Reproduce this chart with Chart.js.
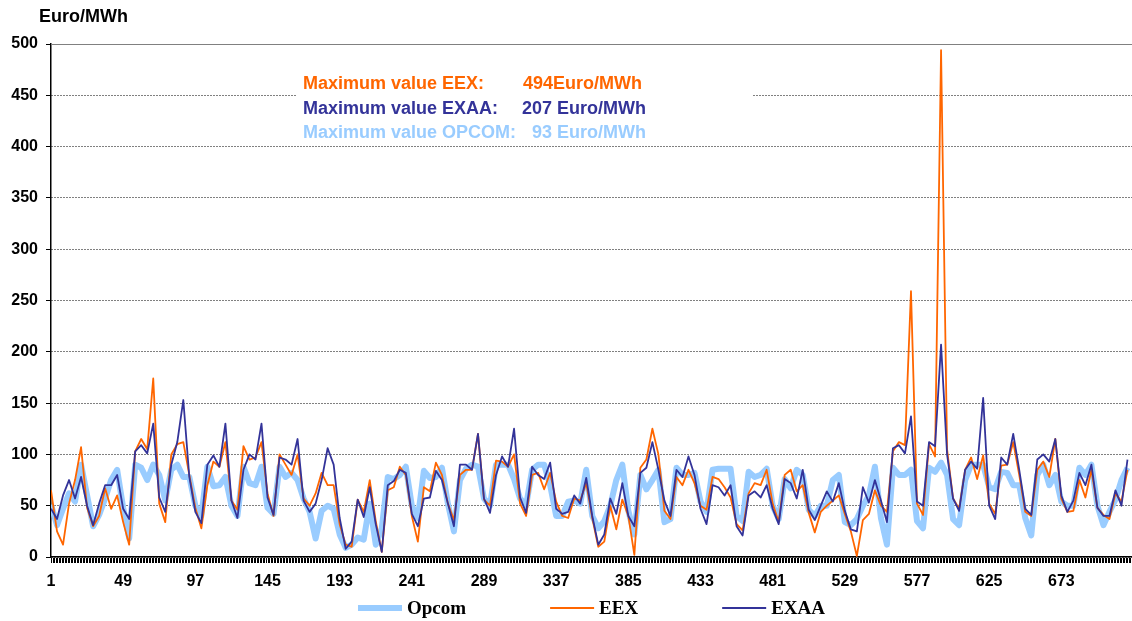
<!DOCTYPE html>
<html>
<head>
<meta charset="utf-8">
<script src="https://cdn.jsdelivr.net/npm/chart.js@4.4.0/dist/chart.umd.min.js"></script>
<style>
  html, body { margin: 0; padding: 0; background: #fff; }
</style>
</head>
<body>
<canvas id="chart" width="1132" height="621"></canvas>
<script>
// hourly prices for one month, read every 4th hour off the original chart
const hours = Array.from({ length: 180 }, (_, i) => 1 + 4 * i);
const hourTicks = Array.from({ length: 720 }, (_, i) => i + 1);
const tickLabels = [1, 49, 97, 145, 193, 241, 289, 337, 385, 433, 481, 529, 577, 625, 673];

const opcom = [
  51, 31, 47, 62, 54, 90, 60, 30, 41, 57,
  75, 85, 48, 18, 90, 87, 75, 90, 80, 55,
  85, 90, 78, 78, 50, 40, 88, 69, 70, 78,
  50, 40, 88, 72, 70, 88, 48, 42, 88, 78,
  82, 75, 57, 44, 18, 45, 50, 47, 22, 9,
  12, 19, 17, 52, 12, 28, 78, 76, 80, 88,
  50, 38, 84, 77, 78, 87, 52, 25, 75, 86,
  90, 88, 57, 50, 90, 90, 90, 76, 57, 50,
  85, 90, 90, 70, 40, 40, 54, 55, 52, 85,
  40, 28, 35, 50, 75, 90, 45, 22, 80, 66,
  75, 85, 34, 37, 87, 80, 80, 82, 54, 44,
  85, 86, 86, 86, 40, 35, 83, 78, 80, 86,
  50, 37, 76, 67, 85, 80, 46, 40, 50, 50,
  75, 80, 34, 31, 37, 50, 60, 88, 38, 12,
  87, 80, 80, 85, 35, 28, 87, 83, 92, 80,
  37, 31, 75, 90, 90, 90, 68, 66, 83, 82,
  70, 70, 38, 21, 80, 90, 70, 80, 54, 50,
  50, 87, 80, 90, 50, 31, 44, 56, 75, 87
];

const eex = [
  65, 25, 12, 52, 75, 107, 48, 30, 40, 67,
  47, 60, 34, 12, 103, 115, 105, 174, 52, 34,
  100, 110, 112, 80, 48, 28, 70, 93, 88, 112,
  55, 46, 108, 95, 97, 112, 62, 40, 100, 90,
  80, 100, 57, 50, 62, 82, 70, 70, 32, 12,
  10, 56, 44, 75, 35, 5, 65, 68, 88, 80,
  40, 15, 68, 64, 92, 80, 52, 36, 80, 85,
  85, 120, 56, 50, 94, 93, 88, 100, 52, 40,
  80, 82, 66, 82, 54, 40, 38, 57, 55, 72,
  38, 10, 15, 50, 27, 56, 40, 2, 87, 95,
  125, 100, 45, 37, 78, 70, 85, 72, 50, 46,
  78, 76, 68, 58, 32, 26, 62, 72, 70, 85,
  52, 34, 80, 85, 64, 70, 43, 24, 44, 50,
  55, 60, 42, 25, 1, 36, 42, 65, 50, 44,
  103, 112, 109, 259, 52, 41, 110, 98, 494, 105,
  57, 47, 85, 97, 76, 99, 52, 42, 89, 90,
  112, 80, 44, 40, 85, 93, 78, 115, 57, 44,
  45, 75, 58, 85, 48, 41, 37, 62, 54, 85
];

const exaa = [
  47, 37, 60, 75, 57, 78, 50, 31, 52, 70,
  70, 80, 47, 37, 103, 109, 101, 130, 58, 44,
  90, 112, 153, 78, 44, 33, 90, 99, 88, 130,
  55, 38, 85, 100, 95, 130, 58, 41, 97, 95,
  90, 115, 55, 44, 52, 75, 106, 90, 38, 8,
  15, 56, 39, 68, 32, 5, 70, 74, 85, 82,
  42, 30, 57, 58, 84, 75, 52, 30, 90, 90,
  85, 120, 57, 43, 80, 98, 88, 125, 58, 43,
  88, 80, 76, 92, 47, 42, 44, 60, 52, 77,
  40, 12, 22, 57, 42, 72, 40, 30, 82, 87,
  112, 85, 55, 40, 85, 78, 98, 80, 47, 32,
  70, 68, 60, 70, 30, 21, 60, 64, 58, 70,
  47, 32, 76, 72, 57, 85, 46, 36, 50, 64,
  54, 72, 45, 27, 25, 68, 53, 75, 55, 34,
  106, 109, 101, 137, 54, 50, 112, 108, 207, 100,
  57, 45, 85, 93, 86, 155, 50, 37, 97, 90,
  120, 85, 47, 41, 95, 100, 93, 115, 60, 44,
  55, 82, 70, 90, 48, 40, 40, 65, 50, 95
];

const maxNotes = [
  ['Maximum value EEX:', '494Euro/MWh', '#FF6600'],
  ['Maximum value EXAA:', '207 Euro/MWh', '#333399'],
  ['Maximum value OPCOM:', '93 Euro/MWh', '#99CCFF']
];

const toPoints = vals => vals.map((v, i) => ({ x: hours[i], y: v }));
const SANS = '"Liberation Sans", Arial, sans-serif';

// title, note box, top frame line, hourly tick marks, legend
const decorations = {
  id: 'decorations',
  beforeDatasetsDraw(chart) {
    const { ctx, chartArea } = chart;
    ctx.save();
    ctx.strokeStyle = '#808080';
    ctx.lineWidth = 1;
    ctx.beginPath();
    ctx.moveTo(chartArea.left, chartArea.top + 0.5);
    ctx.lineTo(chartArea.right, chartArea.top + 0.5);
    ctx.stroke();

    ctx.fillStyle = '#fff';
    ctx.fillRect(296, 68, 456, 74);
    ctx.font = 'bold 18px ' + SANS;
    ctx.textBaseline = 'alphabetic';
    const valX = [523, 522, 532];
    maxNotes.forEach((n, i) => {
      ctx.fillStyle = n[2];
      ctx.fillText(n[0], 303, 89 + i * 24.5);
      ctx.fillText(n[1], valX[i], 89 + i * 24.5);
    });
    ctx.restore();
  },
  afterDraw(chart) {
    const { ctx, chartArea, scales } = chart;
    ctx.save();

    // one small tick per hour under the x axis
    ctx.strokeStyle = '#000';
    ctx.lineWidth = 1;
    ctx.setLineDash([]);
    ctx.beginPath();
    hourTicks.forEach(h => {
      const px = Math.round(scales.x.getPixelForValue(h)) + 0.5;
      ctx.moveTo(px, chartArea.bottom + 1);
      ctx.lineTo(px, chartArea.bottom + 6);
    });
    ctx.stroke();

    ctx.fillStyle = '#000';
    ctx.font = 'bold 18px ' + SANS;
    ctx.textBaseline = 'middle';
    ctx.fillText('Euro/MWh', 39, 17);

    // legend centred under the plot area
    ctx.font = 'bold 19px "Liberation Serif", "Times New Roman", serif';
    const items = chart.data.datasets.map(ds => ({
      ds, w: 44 + 5 + ctx.measureText(ds.label).width
    }));
    const gap = 84;
    const total = items.reduce((s, it) => s + it.w, 0) + gap * (items.length - 1);
    let x = (chartArea.left + chartArea.right) / 2 - total / 2;
    const y = 608;
    items.forEach(it => {
      ctx.strokeStyle = it.ds.borderColor;
      ctx.lineWidth = it.ds.borderWidth;
      ctx.beginPath();
      ctx.moveTo(x, y);
      ctx.lineTo(x + 44, y);
      ctx.stroke();
      ctx.fillStyle = '#000';
      ctx.textBaseline = 'alphabetic';
      ctx.fillText(it.ds.label, x + 49, y + 6);
      x += it.w + gap;
    });
    ctx.restore();
  }
};

new Chart(document.getElementById('chart'), {
  type: 'line',
  data: {
    datasets: [
      { label: 'Opcom', data: toPoints(opcom), borderColor: '#99CCFF', borderWidth: 6, order: 3 },
      { label: 'EEX', data: toPoints(eex), borderColor: '#FF6600', borderWidth: 1.8, order: 2 },
      { label: 'EXAA', data: toPoints(exaa), borderColor: '#333399', borderWidth: 1.8, order: 1 }
    ]
  },
  options: {
    responsive: false,
    animation: false,
    layout: { padding: { top: 44, right: 0, bottom: 0, left: 0 } },
    elements: {
      point: { radius: 0 },
      line: { tension: 0, fill: false, borderJoinStyle: 'round' }
    },
    scales: {
      x: {
        type: 'linear',
        min: 1,
        max: 720,
        afterBuildTicks: axis => { axis.ticks = tickLabels.map(v => ({ value: v })); },
        afterFit: axis => {
          axis.height = 64;
          axis.paddingLeft = 0;
          axis.paddingRight = 0;
        },
        ticks: {
          autoSkip: false,
          maxRotation: 0,
          padding: 15,
          color: '#000',
          font: { family: SANS, size: 16, weight: 'bold' }
        },
        grid: { display: false, drawTicks: false, tickLength: 4 },
        border: { display: true, color: '#000', width: 1.5 }
      },
      y: {
        min: 0,
        max: 500,
        afterFit: axis => { axis.width = 51; },
        ticks: {
          stepSize: 50,
          padding: 8,
          color: '#000',
          font: { family: SANS, size: 16, weight: 'bold' }
        },
        grid: { color: '#000', lineWidth: 1, tickLength: 5, tickColor: '#000', tickBorderDash: [] },
        border: { display: true, color: '#000', width: 1.5, dash: [1, 2] }
      }
    },
    plugins: {
      legend: { display: false },
      tooltip: { enabled: false }
    }
  },
  plugins: [decorations]
});
</script>
</body>
</html>
